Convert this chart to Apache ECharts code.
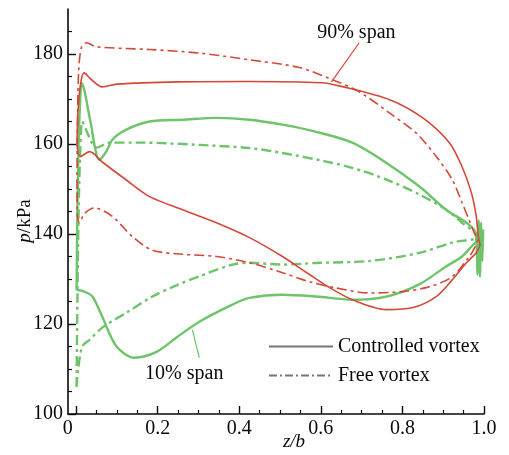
<!DOCTYPE html>
<html>
<head>
<meta charset="utf-8">
<script src="https://cdn.jsdelivr.net/npm/echarts@6/dist/echarts.min.js"></script>
<style>
html,body{margin:0;padding:0;background:#fff;}
#c{width:509px;height:455px;}
</style>
</head>
<body>
<div id="c"></div>
<script>
// ---- data: [z/b, p(kPa)] ----
// 90% span, controlled vortex (red solid): upper branch LE->TE, lower branch TE->LE
const red90CtrlUpper = [[0.002,160],[0.005,168],[0.012,174],[0.02,175.8],[0.035,174.5],[0.064,172.7],[0.1,173.3],[0.25,173.8],[0.42,173.9],[0.6,173.6],[0.65,172.8],[0.77,169.8],[0.85,165.8],[0.915,160.3],[0.946,155],[0.969,149.2],[0.981,143.9],[0.986,139.4],[0.99,137.5]];
const red90CtrlLower = [[0.985,136.5],[0.979,135.6],[0.957,133.6],[0.922,129.8],[0.883,126.1],[0.824,123.6],[0.761,123.2],[0.677,125.4],[0.621,128.1],[0.572,131.0],[0.506,135.0],[0.425,139.2],[0.344,142.5],[0.261,145.4],[0.18,148.3],[0.123,152],[0.064,156],[0.033,158.3],[0.01,157.2],[0.002,160]];
// 90% span, free vortex (red dash-dot)
const red90FreeUpper = [[0.002,150],[0.003,163],[0.006,176],[0.013,181.5],[0.025,182.5],[0.05,181.6],[0.18,181],[0.302,180.2],[0.425,178.7],[0.547,177],[0.628,174.3],[0.694,171.6],[0.768,166.9],[0.834,162.4],[0.883,157.2],[0.922,152.1],[0.946,147],[0.964,143],[0.976,140.3],[0.984,138.7]];
const red90FreeLower = [[0.975,136.6],[0.964,135.0],[0.922,130.5],[0.866,128.3],[0.8,127.2],[0.719,126.9],[0.638,128.0],[0.572,129.4],[0.506,131.4],[0.425,133.6],[0.344,135],[0.261,135.5],[0.187,136.4],[0.138,139.4],[0.089,143.9],[0.045,145.8],[0.02,144.5],[0.008,142.5],[0.003,144],[0.002,150]];
// 10% span, controlled vortex (green solid)
const grn10CtrlUpper = [[0.001,127.6],[0.003,145],[0.006,160],[0.01,170],[0.013,173.6],[0.02,172],[0.035,165],[0.057,156.5],[0.075,158.5],[0.089,161],[0.123,163.2],[0.18,165],[0.261,165.4],[0.344,165.8],[0.425,165.4],[0.506,164.3],[0.589,162.7],[0.677,160.3],[0.761,155.8],[0.841,150.6],[0.907,145.4],[0.957,142.5],[0.979,140.3],[0.984,131],[0.987,143],[0.99,130.5],[0.993,142.5],[0.996,134],[0.998,141],[0.99,138.3]];
const grn10CtrlLower = [[0.979,138.1],[0.946,135],[0.907,132.8],[0.841,128.8],[0.761,126.1],[0.677,125.4],[0.589,126.1],[0.506,126.5],[0.425,125.8],[0.383,124.3],[0.302,120.5],[0.246,117],[0.197,113.8],[0.143,112.5],[0.099,115],[0.064,121.6],[0.04,126.1],[0.02,127.2],[0.001,127.6]];
// 10% span, free vortex (green dash-dot)
const grn10FreeUpper = [[0.001,106],[0.003,125],[0.006,145],[0.01,158],[0.015,165],[0.025,163],[0.04,160],[0.05,159.2],[0.082,160.3],[0.162,160.3],[0.302,159.8],[0.425,159.1],[0.506,158.0],[0.613,156.1],[0.677,154.7],[0.761,152.1],[0.841,148.8],[0.907,145.4],[0.946,142.5],[0.988,139.4]];
const grn10FreeLower = [[0.922,138.1],[0.841,135.8],[0.719,134],[0.596,133.6],[0.506,133.2],[0.425,133.6],[0.383,133.2],[0.302,130.6],[0.246,128.6],[0.187,126.1],[0.123,122.5],[0.064,119.2],[0.033,116.5],[0.015,115],[0.005,110],[0.001,106]];

// axis ticks / labels
const xMajorTicks = [0,0.2,0.4,0.6,0.8,1.0];
const xMinorTicks = [0.05,0.1,0.15,0.25,0.3,0.35,0.45,0.5,0.55,0.65,0.7,0.75,0.85,0.9,0.95];
const yMajorTicks = [100,120,140,160,180];
const yMinorTicks = [105,110,115,125,130,135,145,150,155,165,170,175,185];

// annotations (data coordinates)
const note90Text = [0.687,184.7];
const note90Line = [[0.694,182.5],[0.626,173.8]];
const note10Text = [0.265,109.0];
const note10Line = [[0.302,112.5],[0.285,118.7]];

const RED = '#d4483a';
const GREEN = '#6ec46a';
const DASHDOT = [10,4,3,4];
const FONT = '"Liberation Serif", "DejaVu Serif", serif';
const SMOOTH = 0.3;
const INK = '#0a0a0a';

function loop(a,b){ return a.concat(b); }

const chart = echarts.init(document.getElementById('c'), null, {renderer:'canvas'});

const commonLine = {type:'line', showSymbol:false, symbol:'none', xAxisIndex:0, yAxisIndex:0, silent:true, animation:false};
const noteLabel = {show:true, position:'inside', fontFamily:FONT, fontSize:20, color:INK, textBorderWidth:0, textShadowBlur:0};

chart.setOption({
  backgroundColor:'#fff',
  animation:false,
  grid:{left:68, right:25, top:9, bottom:41, containLabel:false},
  xAxis:[
    {type:'value', min:-0.02, max:1.0, position:'bottom',
     axisLine:{show:true, onZero:false, lineStyle:{color:INK, width:1.6}},
     axisTick:{show:true, inside:true, length:8, customValues:xMajorTicks, lineStyle:{color:INK, width:1.4}},
     axisLabel:{show:true, customValues:xMajorTicks, margin:5, color:INK, fontFamily:FONT, fontSize:20,
       formatter:function(v){ if(Math.abs(v)<1e-9) return '{z|0}'; return v.toFixed(1); },
       rich:{z:{fontFamily:FONT, fontSize:20, color:INK, padding:[0,17,0,0]}}},
     splitLine:{show:false}},
    {type:'value', min:-0.02, max:1.0, position:'bottom',
     axisLine:{show:false, onZero:false},
     axisTick:{show:true, inside:true, length:4, customValues:xMinorTicks, lineStyle:{color:INK, width:1.2}},
     axisLabel:{show:false}, splitLine:{show:false}}
  ],
  yAxis:[
    {type:'value', min:100, max:190, position:'left',
     axisLine:{show:true, onZero:false, lineStyle:{color:INK, width:1.6}},
     axisTick:{show:true, inside:true, length:8, customValues:yMajorTicks, lineStyle:{color:INK, width:1.4}},
     axisLabel:{show:true, customValues:yMajorTicks, margin:5, color:INK, fontFamily:FONT, fontSize:20},
     splitLine:{show:false}},
    {type:'value', min:100, max:190, position:'left',
     axisLine:{show:false, onZero:false},
     axisTick:{show:true, inside:true, length:4, customValues:yMinorTicks, lineStyle:{color:INK, width:1.2}},
     axisLabel:{show:false}, splitLine:{show:false}}
  ],
  legend:{
    show:true, orient:'vertical', left:268, top:336, padding:0, itemWidth:64, itemHeight:14, itemGap:8,
    data:['Controlled vortex','Free vortex'],
    itemStyle:{opacity:0},
    textStyle:{fontFamily:FONT, fontSize:20, color:INK, lineHeight:21},
    selectedMode:false
  },
  graphic:[
    {type:'text', x:25, y:221, rotation:Math.PI/2, silent:true,
     style:{text:'{i|p}/kPa', fontFamily:FONT, fontSize:19, fill:INK, align:'center', verticalAlign:'middle',
       rich:{i:{fontFamily:FONT, fontSize:19, fontStyle:'italic', fill:INK}}}},
    {type:'text', x:294, y:442, silent:true,
     style:{text:'z/b', fontFamily:FONT, fontSize:19, fontStyle:'italic', fill:INK, align:'center', verticalAlign:'middle'}}
  ],
  series:[
    Object.assign({}, commonLine, {name:'g10c', smooth:SMOOTH, data:loop(grn10CtrlUpper, grn10CtrlLower), lineStyle:{color:GREEN, width:2.4}, z:2}),
    Object.assign({}, commonLine, {name:'g10f', smooth:SMOOTH, data:loop(grn10FreeUpper, grn10FreeLower), lineStyle:{color:GREEN, width:2.4, type:DASHDOT}, z:2}),
    Object.assign({}, commonLine, {name:'r90c', smooth:SMOOTH, data:loop(red90CtrlUpper, red90CtrlLower), lineStyle:{color:RED, width:1.6}, z:3}),
    Object.assign({}, commonLine, {name:'r90f', smooth:SMOOTH, data:loop(red90FreeUpper, red90FreeLower), lineStyle:{color:RED, width:1.6, type:DASHDOT}, z:3}),
    Object.assign({}, commonLine, {name:'n90', data:note90Line, lineStyle:{color:RED, width:1.2}, z:4}),
    Object.assign({}, commonLine, {name:'n10', data:note10Line, lineStyle:{color:GREEN, width:1.2}, z:4}),
    {type:'scatter', name:'labels', symbolSize:0, silent:true, xAxisIndex:0, yAxisIndex:0,
     itemStyle:{color:'#ffffff', opacity:1},
     data:[
       {value:note90Text, label:Object.assign({formatter:'90% span'}, noteLabel)},
       {value:note10Text, label:Object.assign({formatter:'10% span'}, noteLabel)}
     ], z:5},
    Object.assign({}, commonLine, {name:'Controlled vortex', data:[], itemStyle:{color:'#777'}, lineStyle:{color:'#777', width:1.2}}),
    Object.assign({}, commonLine, {name:'Free vortex', data:[], itemStyle:{color:'#777'}, lineStyle:{color:'#777', width:1.2, type:[8,3,2,3]}})
  ]
});
</script>
</body>
</html>
